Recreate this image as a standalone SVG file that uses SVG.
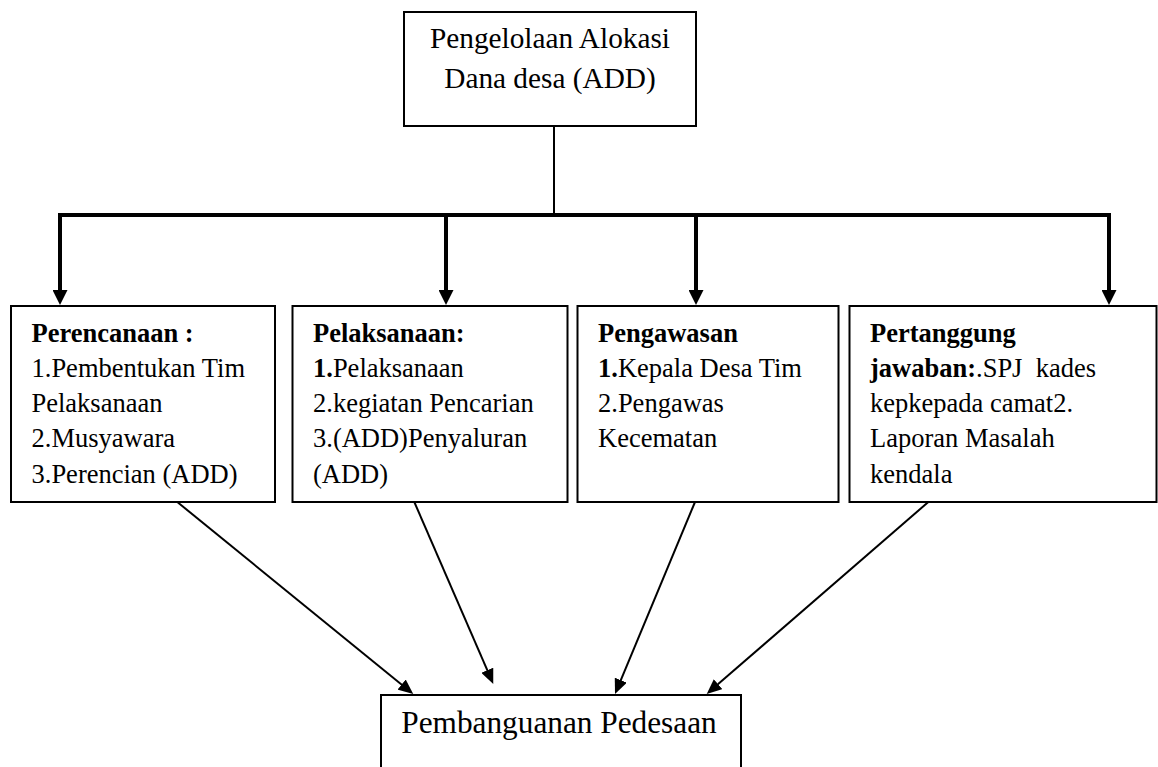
<svg xmlns="http://www.w3.org/2000/svg" width="1158" height="767" viewBox="0 0 1158 767">
<style>
.box{fill:#fff;stroke:#000;stroke-width:2}
.t{font-family:"Liberation Serif","Times New Roman",serif;font-size:26.5px;fill:#000}
.b{font-weight:bold}
.thick{stroke:#000;stroke-width:4;fill:none}
.thin{stroke:#000;stroke-width:2;fill:none}
</style>
<defs>
<marker id="ah" markerUnits="userSpaceOnUse" markerWidth="15" markerHeight="15" refX="1" refY="7.5" orient="auto">
<path d="M0,0 L15,7.5 L0,15 z" fill="#000"/>
</marker>
<marker id="ahs" markerUnits="userSpaceOnUse" markerWidth="15" markerHeight="13" refX="1" refY="6.5" orient="auto">
<path d="M0,0 L15,6.5 L0,13 z" fill="#000"/>
</marker>
</defs>
<rect width="1158" height="767" fill="#fff"/>
<g id="connectors">
<line class="thin" x1="554" y1="126" x2="554" y2="215" stroke-width="1.5"/>
<line class="thick" x1="58" y1="215" x2="1111" y2="215"/>
<line class="thick" x1="60" y1="213" x2="60" y2="291" marker-end="url(#ah)"/>
<line class="thick" x1="446" y1="215" x2="446" y2="291" marker-end="url(#ah)"/>
<line class="thick" x1="696" y1="215" x2="696" y2="291" marker-end="url(#ah)"/>
<line class="thick" x1="1109" y1="213" x2="1109" y2="291" marker-end="url(#ah)"/>
<line class="thin" x1="177.3" y1="502" x2="402.4" y2="685.2" marker-end="url(#ahs)"/>
<line class="thin" x1="414.3" y1="502" x2="487.7" y2="671.2" marker-end="url(#ahs)"/>
<line class="thin" x1="695" y1="502" x2="620.4" y2="681.1" marker-end="url(#ahs)"/>
<line class="thin" x1="928.3" y1="502" x2="717.3" y2="684.8" marker-end="url(#ahs)"/>
</g>
<g id="node-top">
<rect class="box" x="404" y="12" width="292" height="114" stroke-width="1.5"/>
<text class="t" x="550" y="48" text-anchor="middle" style="font-size:29.3px">Pengelolaan Alokasi</text>
<text class="t" x="550" y="88" text-anchor="middle" style="font-size:29.3px">Dana desa (ADD)</text>
</g>
<g id="node-perencanaan">
<rect class="box" x="11" y="306" width="264" height="196"/>
<text class="t b" x="31.5" y="341.7">Perencanaan :</text>
<text class="t" x="31.5" y="376.9">1.Pembentukan Tim</text>
<text class="t" x="31.5" y="412.1">Pelaksanaan</text>
<text class="t" x="31.5" y="447.3">2.Musyawara</text>
<text class="t" x="31.5" y="482.5">3.Perencian (ADD)</text>
</g>
<g id="node-pelaksanaan">
<rect class="box" x="292.5" y="306" width="275" height="196"/>
<text class="t b" x="313" y="341.7">Pelaksanaan:</text>
<text class="t" x="313" y="376.9"><tspan class="b">1.</tspan>Pelaksanaan</text>
<text class="t" x="313" y="412.1">2.kegiatan Pencarian</text>
<text class="t" x="313" y="447.3">3.(ADD)Penyaluran</text>
<text class="t" x="313" y="482.5">(ADD)</text>
</g>
<g id="node-pengawasan">
<rect class="box" x="577.5" y="306" width="261" height="196"/>
<text class="t b" x="598" y="341.7">Pengawasan</text>
<text class="t" x="598" y="376.9"><tspan class="b">1.</tspan>Kepala Desa Tim</text>
<text class="t" x="598" y="412.1">2.Pengawas</text>
<text class="t" x="598" y="447.3">Kecematan</text>
</g>
<g id="node-pertanggungjawaban">
<rect class="box" x="849.5" y="306" width="307" height="196"/>
<text class="t b" x="870" y="341.7">Pertanggung</text>
<text class="t" x="870" y="376.9" xml:space="preserve"><tspan class="b">jawaban:</tspan>.SPJ  kades</text>
<text class="t" x="870" y="412.1">kepkepada camat2.</text>
<text class="t" x="870" y="447.3">Laporan Masalah</text>
<text class="t" x="870" y="482.5">kendala</text>
</g>
<g id="node-pembangunan">
<rect class="box" x="381" y="695" width="360" height="100"/>
<text class="t" x="559" y="733.3" text-anchor="middle" style="font-size:31.3px">Pembanguanan Pedesaan</text>
</g>
</svg>
